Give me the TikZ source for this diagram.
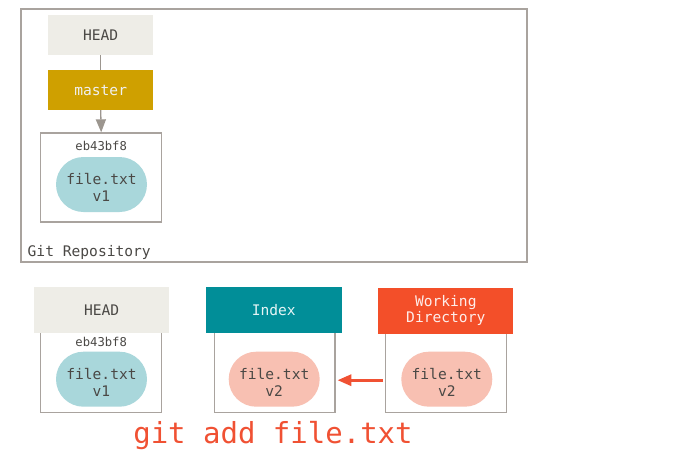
\documentclass[tikz,border=0pt]{standalone}
\usepackage{fontspec}
\setmonofont{DejaVu Sans Mono}
\usetikzlibrary{arrows.meta}
\definecolor{txt}{HTML}{4A4845}
\definecolor{bord}{HTML}{A9A39E}
\definecolor{headfill}{HTML}{EEEDE7}
\definecolor{masterfill}{HTML}{CFA000}
\definecolor{tealpill}{HTML}{A9D7DB}
\definecolor{salmon}{HTML}{F8C0B2}
\definecolor{indexfill}{HTML}{018E98}
\definecolor{wdfill}{HTML}{F34F29}
\definecolor{gitred}{HTML}{F05133}
\definecolor{arrowgray}{HTML}{9C968F}
\tikzset{
  every node/.style={font=\ttfamily, text=txt, inner sep=0pt, align=center},
  lblfont/.style={font=\ttfamily\fontsize{14.6}{16.8}\selectfont},
  frame/.style={draw=bord, line width=1.3pt, fill=white},
  header/.style={minimum height=46pt, lblfont},
  pill/.style={minimum width=91pt, minimum height=55pt, rounded corners=27.5pt},
  pilltext/.style={lblfont},
  hashlbl/.style={font=\ttfamily\fontsize{12.2}{14}\selectfont},
}
\begin{document}
\begin{tikzpicture}[x=1pt,y=-1pt]
\useasboundingbox (0,0) rectangle (681,464);
% repository
\node[frame, minimum width=506pt, minimum height=253pt] (repo) at (274,135.5) {};
\node[fill=headfill, minimum width=105pt, minimum height=40pt, lblfont] (head1) at (100.7,35) {HEAD};
\node[fill=masterfill, text=white!94!black, minimum width=105pt, minimum height=40pt, lblfont] (master) at (100.7,90) {master};
\node[frame, minimum width=121pt, minimum height=89pt] (commit1) at (101.2,177.5) {};
\node[hashlbl] (hash1) at (101.2,146) {eb43bf8};
\node[pill, fill=tealpill] (pill1) at (101.5,184.5) {};
\node[pilltext] (pill1lbl) at ([yshift=-3pt]pill1.center) {file.txt\\v1};
\node[anchor=west, lblfont] (repolbl) at (27.5,252) {Git Repository};
\draw[draw=arrowgray, line width=1.3pt] (head1.south) -- (master.north);
\draw[draw=arrowgray, line width=1.3pt, -{Triangle[length=13pt,width=10pt]}] (master.south) -- (commit1.north);
% bottom: HEAD
\node[frame, minimum width=121pt, minimum height=80pt] (box2) at (101.2,372.7) {};
\node[header, fill=headfill, minimum width=135pt] (head2) at (101.7,309.7) {HEAD};
\node[hashlbl] (hash2) at (101.2,341.7) {eb43bf8};
\node[pill, fill=tealpill] (pill2) at (101.5,379.2) {};
\node[pilltext] (pill2lbl) at ([yshift=-3pt]pill2.center) {file.txt\\v1};
% Index
\node[frame, minimum width=120.7pt, minimum height=80pt] (idxbox) at (274.7,372.7) {};
\node[header, fill=indexfill, text=white!90!indexfill, minimum width=135.7pt] (idxhead) at (273.8,309.7) {Index};
\node[pill, fill=salmon] (idxpill) at (274.2,379.2) {};
\node[pilltext] (idxpilllbl) at ([yshift=-3pt]idxpill.center) {file.txt\\v2};
% Working Directory
\node[frame, minimum width=121pt, minimum height=80pt] (wdbox) at (446.2,372.7) {};
\node[header, fill=wdfill, text=white!90!wdfill, minimum width=135pt] (wdhead) at (445.8,310.5) {Working\\Directory};
\node[pill, fill=salmon] (wdpill) at (446.8,379.2) {};
\node[pilltext] (wdpilllbl) at ([yshift=-3pt]wdpill.center) {file.txt\\v2};
\draw[draw=gitred, line width=3.2pt, -{Triangle[length=14pt,width=11pt]}, shorten <=18pt, shorten >=17.5pt] ([yshift=-1pt]wdpill.west) -- ([yshift=-1pt]idxpill.east);
% command
\node[text=gitred, font=\ttfamily\fontsize{29}{32}\selectfont] (cmd) at (273,436) {git add file.txt};
\end{tikzpicture}
\end{document}
